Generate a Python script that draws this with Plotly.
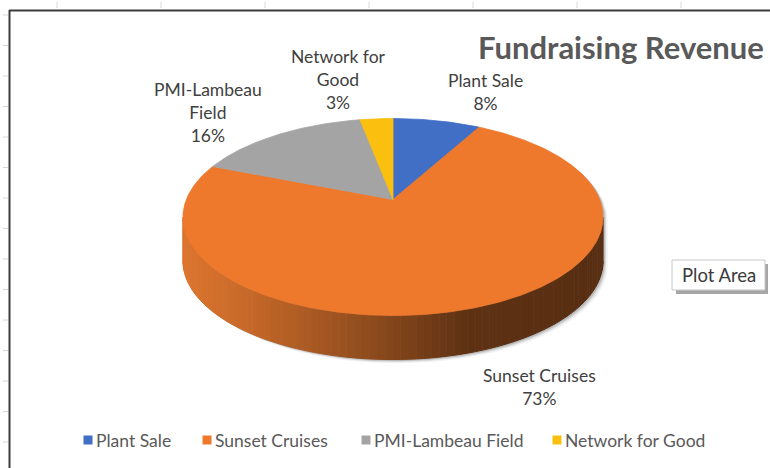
import numpy as np
import plotly.graph_objects as go

# ---------------- data ----------------
categories = ["Plant Sale", "Sunset Cruises", "PMI-Lambeau Field", "Network for Good"]
values = [8, 73, 16, 3]
label_names = ["Plant Sale", "Sunset Cruises", "PMI-Lambeau<br>Field", "Network for<br>Good"]
title_text = "Fundraising Revenue"

# ---------------- style ----------------
top_colors = ["#416FC5", "#EE792D", "#A4A4A4", "#FBBF10"]
side_base = [(68, 114, 196), (237, 125, 49), (165, 165, 165), (255, 192, 0)]
FONT = "Lato"
W, H = 770, 468

# pie geometry in pixel space (perspective-projected disc)
X0, Y0 = 393.0, 199.5
A, B, K = 95.4, 206.7, 0.178
D = 44.0


def proj(theta_deg, drop=0.0):
    th = np.radians(theta_deg)
    u = np.sin(th)
    v = np.cos(th)
    s = 1 + K * v
    return X0 + B * u / s, Y0 + drop - A * v / s


total = float(sum(values))
bounds = np.concatenate([[0.0], np.cumsum(values) / total * 360.0])

fig = go.Figure()

# silhouette angles
t_ext = np.degrees(np.arccos(-K))  # ~100 deg
left_ext = 360 - t_ext

# drop shadow
for off, alpha in [(4.5, 0.06), (3.0, 0.10), (1.8, 0.14)]:
    ta = np.linspace(left_ext - 360, t_ext, 120)
    xa, ya = proj(ta)
    tb = np.linspace(t_ext, left_ext, 120)
    xb, yb = proj(tb, D)
    xs = np.concatenate([xa, xb]) + off
    ys = np.concatenate([ya, yb]) + off * 0.8
    fig.add_trace(go.Scatter(x=xs, y=ys, mode="lines", fill="toself",
                             fillcolor=f"rgba(0,0,0,{alpha})",
                             line=dict(width=0), hoverinfo="skip", showlegend=False))


def shade_factor(x):
    t = (x - (X0 - B)) / (2 * B)
    return float(np.interp(t, [0, 0.12, 0.35, 0.68, 1.0], [0.93, 0.86, 0.68, 0.40, 0.37]))


# side strips
nstrip = 90
edges = np.linspace(t_ext, left_ext, nstrip + 1)
for i in range(nstrip):
    a0, a1 = edges[i], edges[i + 1]
    mid = 0.5 * (a0 + a1)
    idx = int(np.searchsorted(bounds, mid % 360, side="right") - 1)
    idx = min(max(idx, 0), len(values) - 1)
    xm, _ = proj(mid)
    f = shade_factor(xm)
    r, g, b = side_base[idx]
    col = f"rgb({int(r*f)},{int(g*f)},{int(b*f)})"
    tt = np.linspace(a0, a1, 4)
    xt, yt = proj(tt)
    xbm, ybm = proj(tt[::-1], D)
    fig.add_trace(go.Scatter(x=np.concatenate([xt, xbm]), y=np.concatenate([yt, ybm]),
                             mode="lines", fill="toself", fillcolor=col,
                             line=dict(color=col, width=1),
                             hoverinfo="skip", showlegend=False))

# top faces
for i, name in enumerate(categories):
    a0, a1 = bounds[i], bounds[i + 1]
    n = max(8, int((a1 - a0) * 2))
    tt = np.linspace(a0, a1, n)
    xt, yt = proj(tt)
    xs = np.concatenate([[X0], xt, [X0]])
    ys = np.concatenate([[Y0], yt, [Y0]])
    fig.add_trace(go.Scatter(x=xs, y=ys, mode="lines", fill="toself",
                             fillcolor=top_colors[i],
                             line=dict(color=top_colors[i], width=0.8),
                             name=name, hoverinfo="skip", showlegend=False))

# data labels
label_pos = [(485, 91.5), (539, 386.5), (208, 112.5), (338, 79)]
for i in range(len(categories)):
    pct = round(values[i] / total * 100)
    fig.add_annotation(x=label_pos[i][0], y=label_pos[i][1], xref="x", yref="y",
                       text=f"{label_names[i]}<br>{pct}%", showarrow=False,
                       xanchor="center", yanchor="middle", align="center",
                       font=dict(family=FONT, size=17.5, color="#404040"))

# title
fig.add_annotation(x=476, y=47, xref="x", yref="y", text=f"<b>{title_text}</b>",
                   showarrow=False, xanchor="left", yanchor="middle",
                   font=dict(family=FONT, size=31, color="#595959"))

# legend (manual)
leg_sq = [88, 207, 366, 557]
for i, name in enumerate(categories):
    fig.add_trace(go.Scatter(x=[leg_sq[i]], y=[440], mode="markers",
                             marker=dict(symbol="square", size=9, color=top_colors[i]),
                             hoverinfo="skip", showlegend=False))
    fig.add_annotation(x=leg_sq[i] + 6, y=440, xref="x", yref="y", text=name,
                       showarrow=False, xanchor="left", yanchor="middle",
                       font=dict(family=FONT, size=17.5, color="#595959"))

# "Plot Area" tooltip
shapes = []
shapes.append(dict(type="rect", xref="x", yref="y", x0=676, y0=264, x1=768, y1=294,
                   fillcolor="rgba(0,0,0,0.35)", line=dict(width=0), layer="above"))
shapes.append(dict(type="rect", xref="x", yref="y", x0=672, y0=260, x1=765, y1=290,
                   fillcolor="#ffffff", line=dict(color="#c8c8c8", width=1), layer="above"))
fig.add_annotation(x=719, y=275, xref="x", yref="y", text="Plot Area", showarrow=False,
                   xanchor="center", yanchor="middle",
                   font=dict(family=FONT, size=18.5, color="#3a3a3a"))

# sheet frame and grid ticks
shapes.append(dict(type="line", xref="x", yref="y", x0=9.5, y0=10, x1=9.5, y1=468,
                   line=dict(color="#3c3c3c", width=2)))
shapes.append(dict(type="line", xref="x", yref="y", x0=9, y0=10.5, x1=770, y1=10.5,
                   line=dict(color="#3c3c3c", width=2)))
for k in range(7):
    xk = 57 + 104 * k
    shapes.append(dict(type="line", xref="x", yref="y", x0=xk, y0=2, x1=xk, y1=8,
                       line=dict(color="#d6d6d6", width=1)))
for k in range(15):
    yk = 15 + 30.5 * k
    shapes.append(dict(type="line", xref="x", yref="y", x0=3, y0=yk, x1=8, y1=yk,
                       line=dict(color="#d6d6d6", width=1)))

fig.update_layout(
    width=W, height=H,
    margin=dict(l=0, r=0, t=0, b=0),
    paper_bgcolor="white", plot_bgcolor="white",
    xaxis=dict(range=[0, W], visible=False, fixedrange=True),
    yaxis=dict(range=[H, 0], visible=False, fixedrange=True),
    shapes=shapes,
    hovermode=False,
    showlegend=False,
)

fig.write_html("out.html", config={"displayModeBar": False},
               post_script="document.body.style.margin='0';document.body.style.overflow='hidden';")
